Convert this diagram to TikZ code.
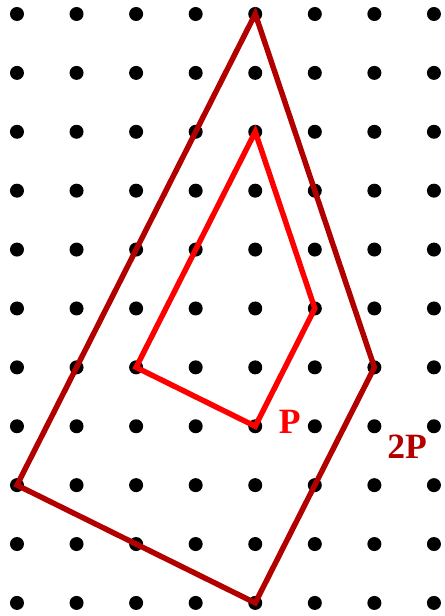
\documentclass[tikz,border=0pt]{standalone}
\usepackage{fontspec}
\setmainfont{Liberation Serif}
\definecolor{pred}{RGB}{255,0,0}
\definecolor{dred}{RGB}{178,0,0}
\begin{document}
\begin{tikzpicture}[x=1cm,y=-0.9887cm,
  dot/.style={circle,fill=black,inner sep=0pt,minimum size=0.235cm},
  poly/.style={line width=2.6pt,line join=miter,line cap=butt},
  lab/.style={font=\bfseries\fontsize{17}{20}\selectfont,inner sep=0pt}]
\useasboundingbox (-0.285,-0.2377) rectangle (7.185,10.222);
\foreach \i in {0,...,7}{
  \foreach \j in {0,...,10}{
    \node[dot] (d-\i-\j) at (\i,\j) {};
  }
}
\draw[poly,pred] (d-4-2.center) -- (d-5-5.center) -- (d-4-7.center) -- (d-2-6.center) -- cycle;
\draw[poly,dred] (d-4-0.center) -- (d-6-6.center) -- (d-4-10.center) -- (d-0-8.center) -- cycle;
\node[lab,text=pred] (lp) at (4.58,6.92) {P};
\node[lab,text=dred] (l2p) at (6.55,7.35) {2P};
\end{tikzpicture}
\end{document}
